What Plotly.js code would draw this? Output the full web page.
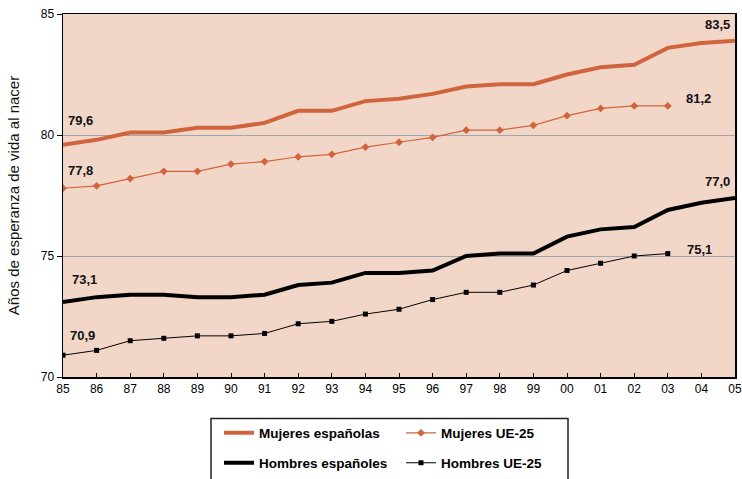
<!DOCTYPE html>
<html>
<head>
<meta charset="utf-8">
<script src="https://cdn.plot.ly/plotly-3.0.1.min.js"></script>
<style>html,body{margin:0;padding:0;background:#fff;}#chart{width:742px;height:479px;}</style>
</head>
<body>
<div id="chart"></div>
<script>
var years = ['85','86','87','88','89','90','91','92','93','94','95','96','97','98','99','00','01','02','03','04','05'];
var mujeresEsp = [79.6,79.8,80.1,80.1,80.3,80.3,80.5,81.0,81.0,81.4,81.5,81.7,82.0,82.1,82.1,82.5,82.8,82.9,83.6,83.8,83.9];
var mujeresUE = [77.8,77.9,78.2,78.5,78.5,78.8,78.9,79.1,79.2,79.5,79.7,79.9,80.2,80.2,80.4,80.8,81.1,81.2,81.2];
var hombresEsp = [73.1,73.3,73.4,73.4,73.3,73.3,73.4,73.8,73.9,74.3,74.3,74.4,75.0,75.1,75.1,75.8,76.1,76.2,76.9,77.2,77.4];
var hombresUE = [70.9,71.1,71.5,71.6,71.7,71.7,71.8,72.2,72.3,72.6,72.8,73.2,73.5,73.5,73.8,74.4,74.7,75.0,75.1];
var seriesNames = ['Mujeres españolas','Mujeres UE-25','Hombres españoles','Hombres UE-25'];
var labelTexts = ['79,6','83,5','77,8','81,2','73,1','77,0','70,9','75,1'];

var orange = '#d0643c';
var traces = [
  {x: years, y: mujeresEsp, name: seriesNames[0], type: 'scatter', mode: 'lines',
   line: {color: orange, width: 4}, legend: 'legend'},
  {x: years.slice(0, mujeresUE.length), y: mujeresUE, name: seriesNames[1], type: 'scatter', mode: 'lines+markers',
   line: {color: orange, width: 1.2}, marker: {symbol: 'diamond', size: 6, color: orange}, legend: 'legend'},
  {x: years, y: hombresEsp, name: seriesNames[2], type: 'scatter', mode: 'lines',
   line: {color: '#000', width: 4}, legend: 'legend2'},
  {x: years.slice(0, hombresUE.length), y: hombresUE, name: seriesNames[3], type: 'scatter', mode: 'lines+markers',
   line: {color: '#000', width: 1}, marker: {symbol: 'square', size: 5, color: '#000'}, legend: 'legend2'}
];

function lab(text, xi, yv, xanchor, xshift, yshift) {
  return {text: text, x: xi, y: yv, xref: 'x', yref: 'y', xanchor: xanchor, yanchor: 'middle',
          xshift: xshift, yshift: yshift, showarrow: false,
          font: {family: 'Liberation Sans, Arial, sans-serif', size: 13, color: '#111', weight: 'bold'}};
}
var nM = mujeresUE.length - 1, nH = hombresUE.length - 1, nE = years.length - 1;
var annotations = [
  lab('<b>' + labelTexts[0] + '</b>', 0, mujeresEsp[0], 'left', 3, 24),
  lab('<b>' + labelTexts[1] + '</b>', nE, mujeresEsp[nE], 'right', -3, 16),
  lab('<b>' + labelTexts[2] + '</b>', 0, mujeresUE[0], 'left', 3, 18),
  lab('<b>' + labelTexts[3] + '</b>', nM, mujeresUE[nM], 'left', 16, 7),
  lab('<b>' + labelTexts[4] + '</b>', 0, hombresEsp[0], 'left', 7, 22),
  lab('<b>' + labelTexts[5] + '</b>', nE, hombresEsp[nE], 'right', -3, 16),
  lab('<b>' + labelTexts[6] + '</b>', 0, hombresUE[0], 'left', 5, 20),
  lab('<b>' + labelTexts[7] + '</b>', nH, hombresUE[nH], 'left', 17, 4)
];

var legFont = {family: 'Liberation Sans, Arial, sans-serif', size: 13.5, color: '#000', weight: 'bold'};
var layout = {
  width: 742, height: 479,
  margin: {l: 63, r: 7, t: 14, b: 102},
  paper_bgcolor: '#ffffff',
  plot_bgcolor: '#f2d7c9',
  font: {family: 'Liberation Sans, Arial, sans-serif', size: 12, color: '#000'},
  xaxis: {
    type: 'category', range: [0, 20], showgrid: false, zeroline: false,
    showline: true, linecolor: '#000', linewidth: 1.5, mirror: true,
    ticks: 'inside', ticklen: 4, tickcolor: '#000', tickfont: {size: 12, color: '#000'}
  },
  yaxis: {
    range: [70, 85], dtick: 5, tick0: 70, showgrid: true, gridcolor: '#a2a7ad', gridwidth: 1,
    zeroline: false, showline: true, linecolor: '#000', linewidth: 1.5, mirror: true,
    ticks: 'outside', ticklen: 5, tickcolor: '#000', tickfont: {size: 12, color: '#000'},
    title: {text: 'Años de esperanza de vida al nacer', font: {size: 15, color: '#111'}, standoff: 17}
  },
  showlegend: true,
  legend: {orientation: 'h', xref: 'container', yref: 'container', x: 219/742, xanchor: 'left',
           y: 1 - 433/479, yanchor: 'middle', bgcolor: 'rgba(0,0,0,0)', borderwidth: 0,
           entrywidth: 137, font: legFont, itemclick: false},
  legend2: {orientation: 'h', xref: 'container', yref: 'container', x: 219/742, xanchor: 'left',
            y: 1 - 463/479, yanchor: 'middle', bgcolor: 'rgba(0,0,0,0)', borderwidth: 0,
            entrywidth: 137, font: legFont, itemclick: false},
  shapes: [{type: 'rect', xref: 'paper', yref: 'paper', x0: (211-63)/672, x1: (568-63)/672,
            y0: (377-418.5)/363, y1: -0.35, line: {color: '#222', width: 1.5}, fillcolor: 'rgba(0,0,0,0)', layer: 'above'}],
  annotations: annotations
};

Plotly.newPlot('chart', traces, layout, {displayModeBar: false, staticPlot: true});
</script>
</body>
</html>
